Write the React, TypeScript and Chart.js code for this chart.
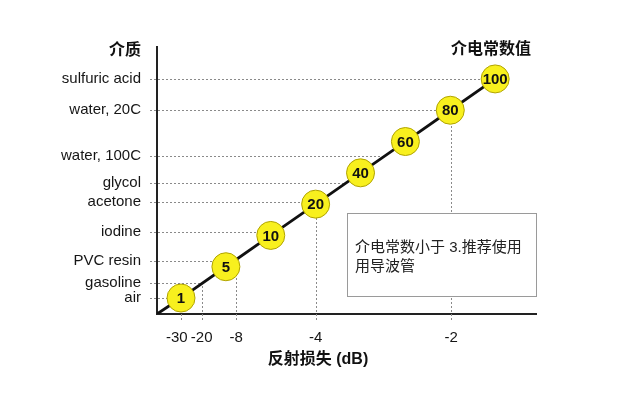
import React, { useEffect, useRef } from "react";
import { Chart, registerables } from "chart.js";

Chart.register(...registerables);

// Dielectric constant markers (placed at evenly spaced positions along the line)
const dielectricValues = [1, 5, 10, 20, 40, 60, 80, 100];
const markerPositions = [0, 1, 2, 3, 4, 5, 6, 7];

// Media (y axis) and their positions on the same scale
const mediaLabels = ["sulfuric acid", "water, 20C", "water, 100C", "glycol", "acetone", "iodine", "PVC resin", "gasoline", "air"];
const mediaPositions = [7, 6, 4.54, 3.67, 3.07, 2.11, 1.18, 0.48, 0];

// Return loss (x axis) tick labels and their positions
const lossLabels = ["-30  ", "-20", "-8", "-4", "-2"];
const lossPositions = [0, 0.46, 1.23, 3, 6.02];

const X_MIN = -0.535;
const X_MAX = 7.91;
const Y_MIN = -0.51;
const Y_MAX = 8.02;

const FONT = '"Liberation Sans", Arial, "Noto Sans CJK SC", sans-serif';

const guidesPlugin = {
  id: "guides",
  beforeDatasetsDraw(chart: any) {
    const { ctx, scales } = chart;
    const xs = scales.x;
    const ys = scales.y;
    ctx.save();
    ctx.strokeStyle = "#8a8a8a";
    ctx.lineWidth = 1;
    ctx.setLineDash([2, 2]);
    mediaPositions.forEach((p) => {
      const y = Math.round(ys.getPixelForValue(p)) + 0.5;
      ctx.beginPath();
      ctx.moveTo(xs.left - 7, y);
      ctx.lineTo(xs.getPixelForValue(p), y);
      ctx.stroke();
    });
    lossPositions.forEach((p) => {
      const x = Math.round(xs.getPixelForValue(p)) + 0.5;
      ctx.beginPath();
      ctx.moveTo(x, ys.bottom + 6);
      ctx.lineTo(x, ys.getPixelForValue(p));
      ctx.stroke();
    });
    ctx.restore();
  },
  afterDraw(chart: any) {
    const { ctx, scales } = chart;
    const xs = scales.x;
    const ys = scales.y;
    ctx.save();
    // marker labels
    ctx.fillStyle = "#111";
    ctx.font = `bold 15px ${FONT}`;
    ctx.textAlign = "center";
    ctx.textBaseline = "middle";
    dielectricValues.forEach((v, i) => {
      ctx.fillText(String(v), xs.getPixelForValue(markerPositions[i]), ys.getPixelForValue(markerPositions[i]) + 1);
    });
    // headings
    ctx.font = `bold 16px ${FONT}`;
    ctx.textAlign = "right";
    ctx.fillStyle = "#111";
    ctx.fillText("介质", 141, 51);
    ctx.fillText("介电常数值", 531, 50);
    ctx.textAlign = "center";
    ctx.fillText("反射损失 (dB)", 318, 360);
    // note box
    ctx.fillStyle = "#fff";
    ctx.fillRect(347, 213, 189, 83);
    ctx.strokeStyle = "#9a9a9a";
    ctx.lineWidth = 1;
    ctx.strokeRect(347.5, 213.5, 189, 83);
    ctx.fillStyle = "#222";
    ctx.font = `15px ${FONT}`;
    ctx.textAlign = "left";
    ctx.fillText("介电常数小于 3.推荐使用", 355, 248);
    ctx.fillText("用导波管", 355, 267);
    ctx.restore();
  },
};

export default function App() {
  const ref = useRef<HTMLCanvasElement>(null);
  useEffect(() => {
    if (!ref.current) return;
    const chart = new Chart(ref.current, {
      type: "scatter",
      data: {
        datasets: [
          {
            data: markerPositions.map((p) => ({ x: p, y: p })),
            backgroundColor: "#f8f01e",
            borderColor: "#b0a300",
            borderWidth: 1,
            pointRadius: 14,
            pointHoverRadius: 14,
            order: 1,
          },
          {
            data: [{ x: X_MIN, y: Y_MIN }, ...markerPositions.map((p) => ({ x: p, y: p }))],
            showLine: true,
            borderColor: "#111",
            borderWidth: 2.8,
            pointRadius: 0,
            order: 2,
          } as any,
        ],
      },
      options: {
        responsive: false,
        animation: false,
        events: [],
        layout: { padding: { top: 47, right: 91, left: 0, bottom: 0 } },
        plugins: { legend: { display: false }, tooltip: { enabled: false } },
        scales: {
          x: {
            type: "linear",
            min: X_MIN,
            max: X_MAX,
            grid: { display: false, drawTicks: false },
            border: { display: true, color: "#222", width: 2 },
            afterFit: (s: any) => {
              s.height = 87;
            },
            afterBuildTicks: (s: any) => {
              s.ticks = lossPositions.map((v) => ({ value: v }));
            },
            ticks: {
              autoSkip: false,
              maxRotation: 0,
              padding: 15,
              color: "#151515",
              font: { size: 15, family: FONT },
              callback: (v: any) => {
                const i = lossPositions.indexOf(v);
                return i >= 0 ? lossLabels[i] : "";
              },
            },
          },
          y: {
            type: "linear",
            min: Y_MIN,
            max: Y_MAX,
            grid: { display: false, drawTicks: false },
            border: { display: true, color: "#222", width: 2 },
            afterFit: (s: any) => {
              s.width = 157;
            },
            afterBuildTicks: (s: any) => {
              s.ticks = mediaPositions.map((v) => ({ value: v }));
            },
            ticks: {
              autoSkip: false,
              padding: 16,
              color: "#151515",
              font: { size: 15, family: FONT },
              callback: (v: any) => {
                const i = mediaPositions.indexOf(v);
                return i >= 0 ? mediaLabels[i] : "";
              },
            },
          },
        },
      } as any,
      plugins: [guidesPlugin],
    });
    return () => chart.destroy();
  }, []);
  return (
    <div style={{ position: "absolute", left: 0, top: 0, width: 627, height: 401, background: "#fff" }}>
      <canvas ref={ref} width={627} height={401} />
    </div>
  );
}
